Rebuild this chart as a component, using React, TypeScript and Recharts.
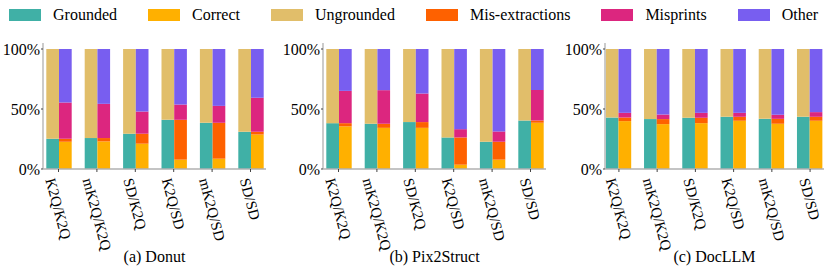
import React from 'react';
import { BarChart, Bar, XAxis, YAxis } from 'recharts';

const categories = ['K2Q/K2Q', 'mK2Q/K2Q', 'SD/K2Q', 'K2Q/SD', 'mK2Q/SD', 'SD/SD'];
const yTicks = [0, 50, 100];

// Donut
const donutGrounded = [25.2, 25.8, 29.4, 41.0, 38.5, 31.0];
const donutUngrounded = [74.8, 74.2, 70.6, 59.0, 61.5, 69.0];
const donutCorrect = [22.7, 23.0, 21.1, 7.8, 8.6, 28.8];
const donutMisExtraction = [2.5, 2.8, 8.3, 33.2, 29.9, 2.2];
const donutMisprints = [30.2, 28.5, 18.5, 12.7, 14.1, 28.3];
const donutOther = [44.6, 45.7, 52.1, 46.3, 47.4, 40.7];

// Pix2Struct
const pixGrounded = [38.2, 37.7, 39.1, 26.3, 22.7, 40.4];
const pixUngrounded = [61.8, 62.3, 60.9, 73.7, 77.3, 59.6];
const pixCorrect = [35.5, 34.3, 34.3, 3.6, 7.8, 38.5];
const pixMisExtraction = [2.7, 3.4, 4.8, 22.7, 14.9, 1.9];
const pixMisprints = [26.9, 28.0, 23.8, 6.9, 8.6, 25.5];
const pixOther = [34.9, 34.3, 37.1, 66.8, 68.7, 34.1];

// DocLLM
const docGrounded = [42.9, 41.6, 42.7, 43.5, 41.8, 43.5];
const docUngrounded = [57.1, 58.4, 57.3, 56.5, 58.2, 56.5];
const docCorrect = [39.9, 37.4, 38.2, 40.2, 37.7, 40.2];
const docMisExtraction = [3.0, 4.2, 4.5, 3.3, 4.1, 3.3];
const docMisprints = [3.9, 3.8, 4.1, 3.3, 3.4, 3.9];
const docOther = [53.2, 54.6, 53.2, 53.2, 54.8, 52.6];

const series = [
  { key: 'grounded', name: 'Grounded', color: '#40B0A6', stack: 'left' },
  { key: 'correct', name: 'Correct', color: '#FFB000', stack: 'right' },
  { key: 'ungrounded', name: 'Ungrounded', color: '#E1BE6A', stack: 'left' },
  { key: 'misExtraction', name: 'Mis-extractions', color: '#FE6100', stack: 'right' },
  { key: 'misprints', name: 'Misprints', color: '#DC267F', stack: 'right' },
  { key: 'other', name: 'Other', color: '#785EF0', stack: 'right' },
];

const drawOrder = ['grounded', 'ungrounded', 'correct', 'misExtraction', 'misprints', 'other'];

const buildRows = (g: number[], u: number[], c: number[], m: number[], p: number[], o: number[]) =>
  categories.map((cat, i) => ({
    cat,
    grounded: g[i],
    ungrounded: u[i],
    correct: c[i],
    misExtraction: m[i],
    misprints: p[i],
    other: o[i],
  }));

const panels = [
  {
    title: '(a) Donut',
    left: 0,
    width: 270,
    pad: 3.7,
    rows: buildRows(donutGrounded, donutUngrounded, donutCorrect, donutMisExtraction, donutMisprints, donutOther),
  },
  {
    title: '(b) Pix2Struct',
    left: 280,
    width: 270,
    pad: 3.7,
    rows: buildRows(pixGrounded, pixUngrounded, pixCorrect, pixMisExtraction, pixMisprints, pixOther),
  },
  {
    title: '(c) DocLLM',
    left: 562,
    width: 266,
    pad: 5.2,
    rows: buildRows(docGrounded, docUngrounded, docCorrect, docMisExtraction, docMisprints, docOther),
  },
];

const FONT = "'Liberation Serif', 'Times New Roman', serif";
const FRAME = '#b0b0b0';

const XTick = (props: any) => {
  const { x, y, payload } = props;
  const label: string = payload.value;
  const len = label.length * 8.9;
  const x0 = x - 0.13 * len;
  const y0 = y + 4.5;
  return (
    <text
      x={x0}
      y={y0}
      dy="0.35em"
      textAnchor="start"
      transform={`rotate(75, ${x0}, ${y0})`}
      fontFamily={FONT}
      fontSize={15}
      fill="#000"
    >
      {label}
    </text>
  );
};

const Panel = ({ panel }: { panel: typeof panels[number] }) => {
  const plotLeft = panel.left + 43;
  const plotW = panel.width - 43 - 4;
  return (
    <>
      <div style={{ position: 'absolute', left: panel.left, top: 0 }}>
        <BarChart
          width={panel.width}
          height={269}
          data={panel.rows}
          margin={{ top: 43, right: 4, bottom: 0, left: 0 }}
          barGap={0}
          barSize={12.7}
        >
          <XAxis
            dataKey="cat"
            interval={0}
            height={100}
            padding={{ left: -panel.pad, right: -panel.pad }}
            axisLine={{ stroke: FRAME, strokeWidth: 1.3 }}
            tickLine={{ stroke: '#444' }}
            tickSize={3}
            tick={<XTick />}
          />
          <XAxis
            xAxisId="top"
            dataKey="cat"
            orientation="top"
            height={0}
            tick={false}
            tickLine={false}
            axisLine={{ stroke: FRAME, strokeWidth: 1.3 }}
          />
          <YAxis
            domain={[0, 105]}
            ticks={yTicks}
            width={43}
            tickFormatter={(v: number) => `${v}%`}
            axisLine={{ stroke: FRAME, strokeWidth: 1.3 }}
            tickLine={{ stroke: '#444' }}
            tickSize={2}
            tickMargin={1}
            tick={{ fontFamily: FONT, fontSize: 16, fill: '#000' }}
          />
          <YAxis
            yAxisId="right"
            orientation="right"
            domain={[0, 105]}
            width={0}
            tick={false}
            tickLine={false}
            axisLine={{ stroke: FRAME, strokeWidth: 1.3 }}
          />
          {drawOrder.map((k) => {
            const s = series.find((d) => d.key === k)!;
            return (
              <Bar
                key={k}
                dataKey={k}
                name={s.name}
                stackId={s.stack}
                fill={s.color}
                isAnimationActive={false}
              />
            );
          })}
        </BarChart>
      </div>
      <div
        style={{
          position: 'absolute',
          left: plotLeft,
          width: plotW,
          top: 247,
          textAlign: 'center',
          fontFamily: FONT,
          fontSize: 16,
          lineHeight: '20px',
          color: '#000',
        }}
      >
        {panel.title}
      </div>
    </>
  );
};

const App: React.FC = () => {
  return (
    <div
      style={{
        position: 'absolute',
        left: 0,
        top: 0,
        width: 830,
        height: 269,
        background: '#fff',
        overflow: 'hidden',
      }}
    >
      <div
        style={{
          position: 'absolute',
          left: 9,
          top: 5,
          display: 'flex',
          alignItems: 'center',
          fontFamily: FONT,
          fontSize: 16,
          lineHeight: '20px',
          whiteSpace: 'nowrap',
        }}
      >
        {series.map((s) => (
          <div key={s.key} style={{ display: 'flex', alignItems: 'center', marginRight: 31 }}>
            <span style={{ display: 'inline-block', width: 32, height: 12, background: s.color, marginRight: 12 }} />
            <span>{s.name}</span>
          </div>
        ))}
      </div>
      {panels.map((p) => (
        <Panel key={p.title} panel={p} />
      ))}
    </div>
  );
};

export default App;
